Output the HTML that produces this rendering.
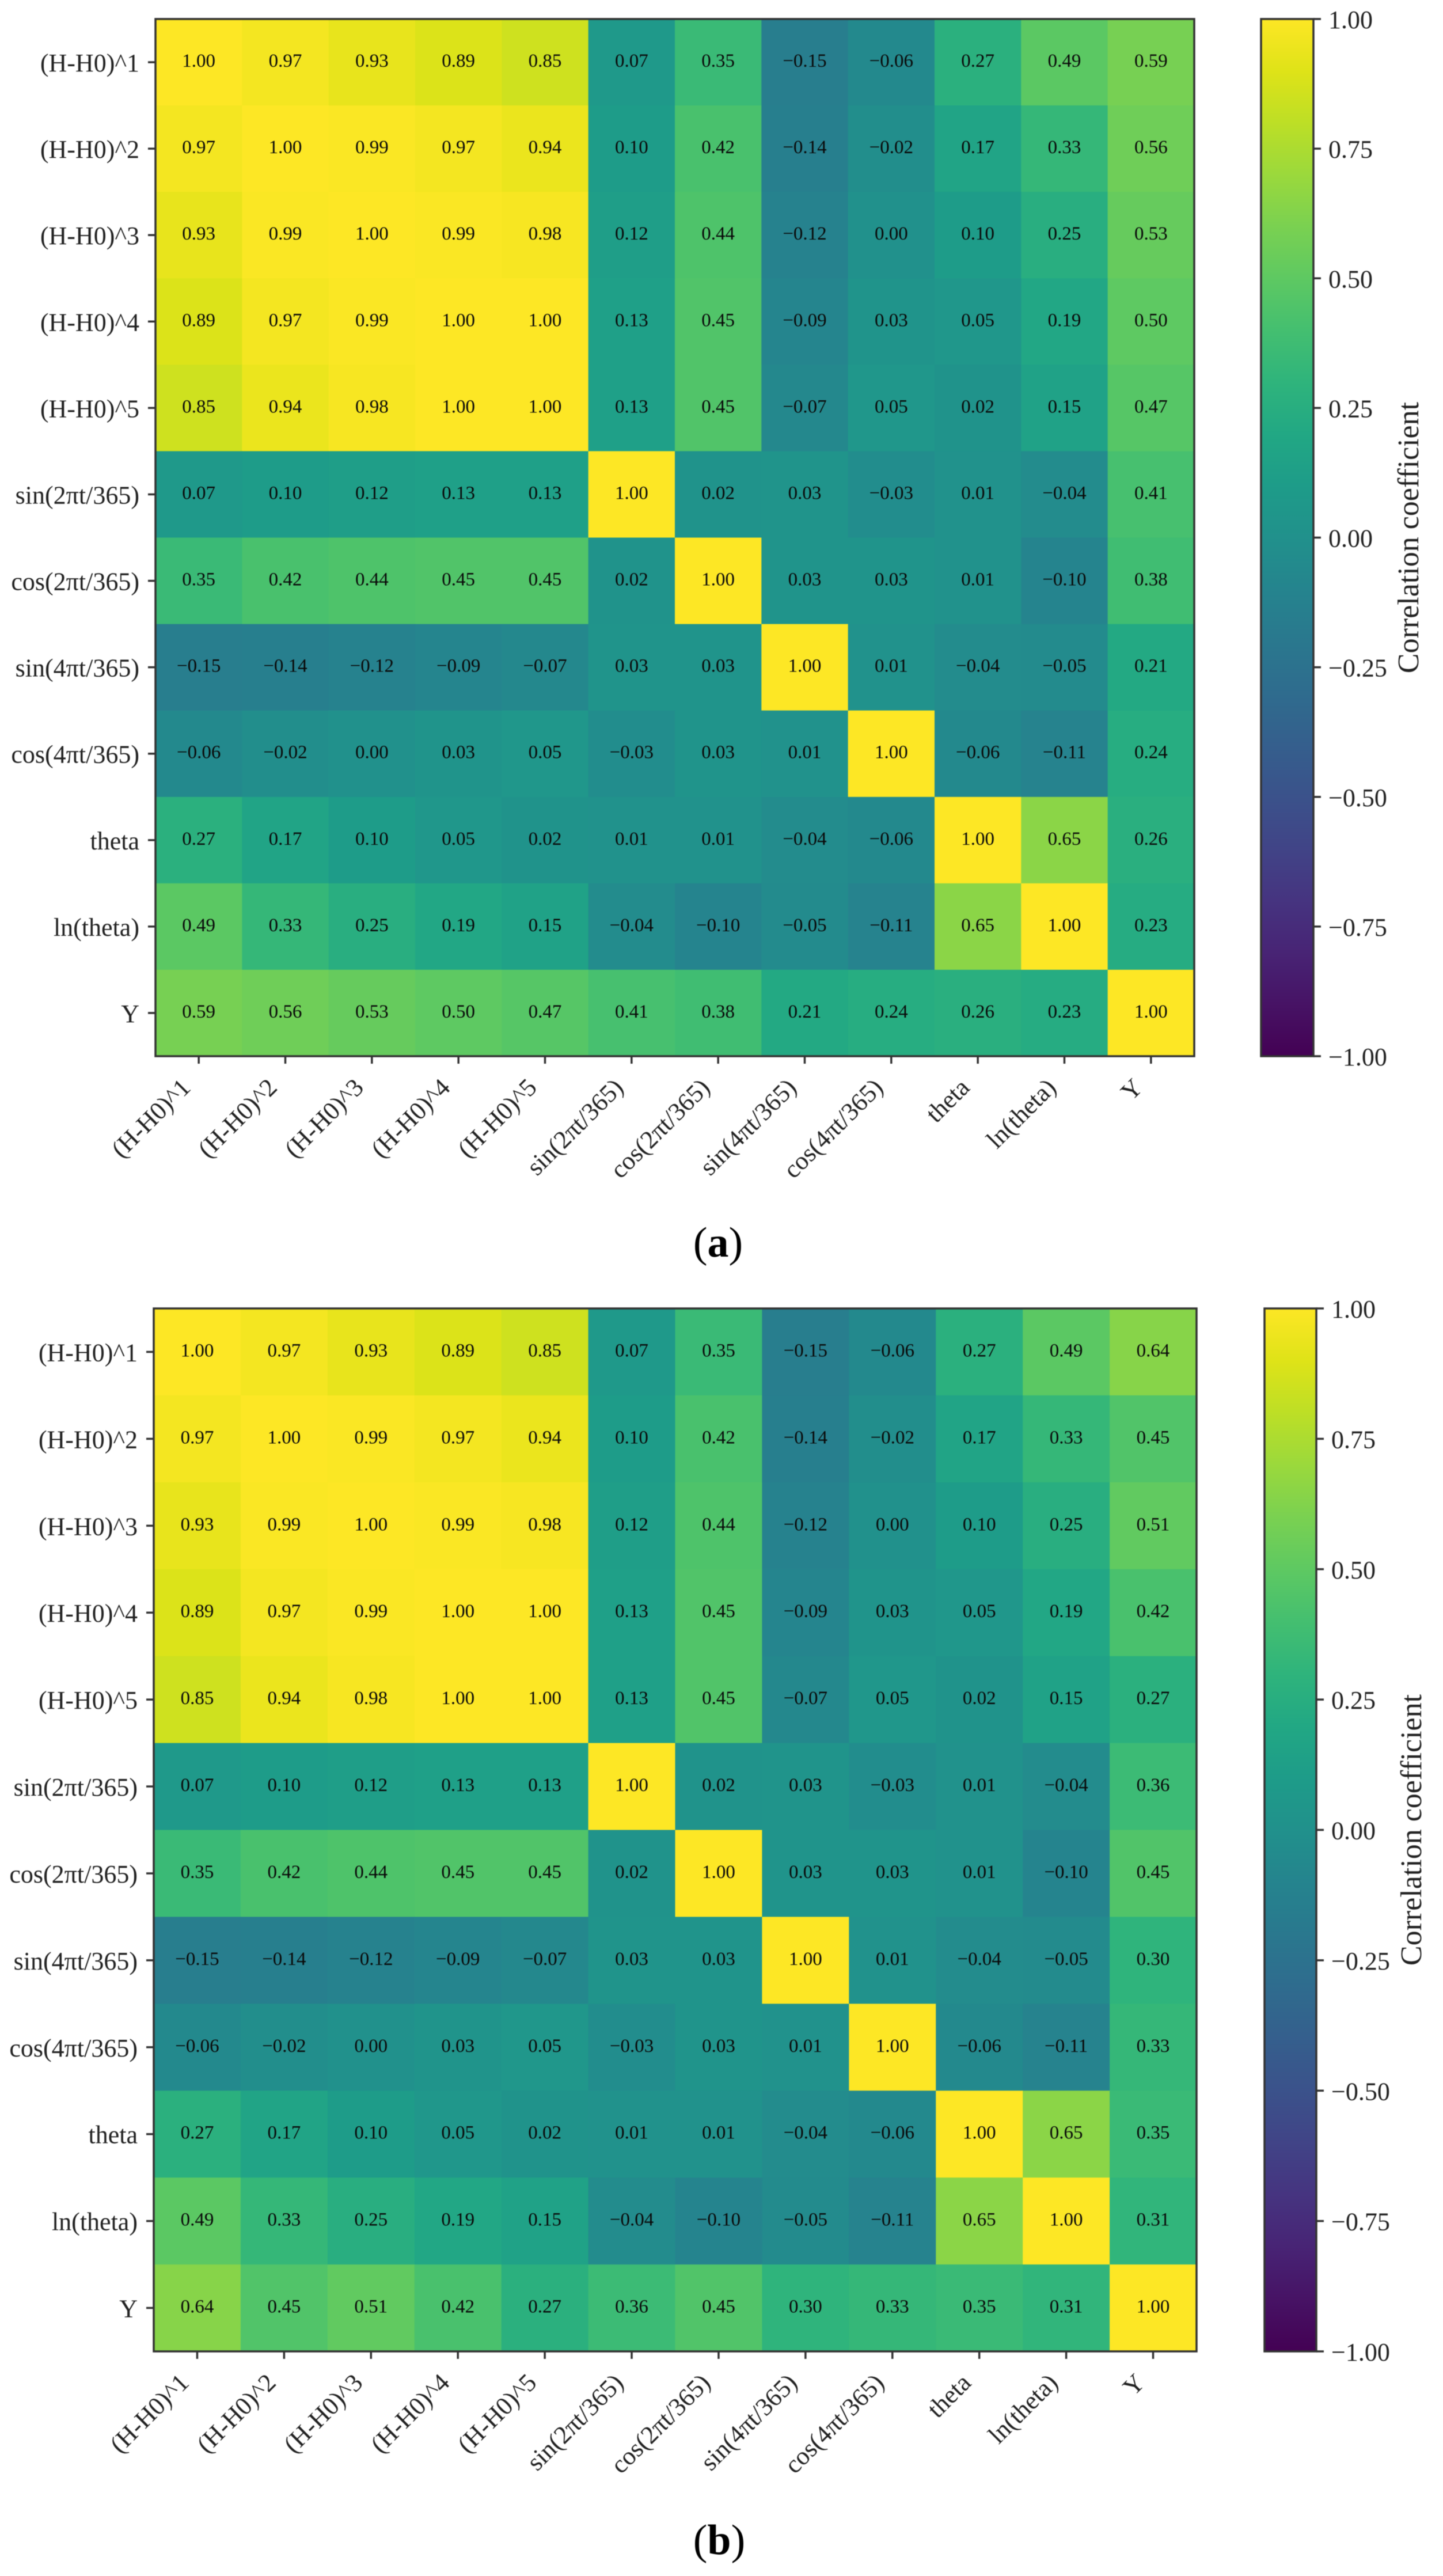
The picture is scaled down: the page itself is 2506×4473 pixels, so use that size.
<!DOCTYPE html>
<html lang="en">
<head>
<meta charset="utf-8">
<title>Correlation heatmaps</title>
<style>
html,body{margin:0;padding:0;background:#fff;}
svg{display:block;font-family:"Liberation Serif","Noto Serif CJK SC",serif;}
#figure{filter:blur(0.6px);}
</style>
</head>
<body>
<svg id="figure" xmlns="http://www.w3.org/2000/svg" width="2506" height="4473" viewBox="0 0 2506 4473">
<rect x="0" y="0" width="2506" height="4473" fill="#ffffff"/>
</svg>
<script>
const categories = ["(H-H0)^1","(H-H0)^2","(H-H0)^3","(H-H0)^4","(H-H0)^5","sin(2πt/365)","cos(2πt/365)","sin(4πt/365)","cos(4πt/365)","theta","ln(theta)","Y"];
const featureCorrelations = [
  [1.00,0.97,0.93,0.89,0.85,0.07,0.35,-0.15,-0.06,0.27,0.49],
  [0.97,1.00,0.99,0.97,0.94,0.10,0.42,-0.14,-0.02,0.17,0.33],
  [0.93,0.99,1.00,0.99,0.98,0.12,0.44,-0.12,0.00,0.10,0.25],
  [0.89,0.97,0.99,1.00,1.00,0.13,0.45,-0.09,0.03,0.05,0.19],
  [0.85,0.94,0.98,1.00,1.00,0.13,0.45,-0.07,0.05,0.02,0.15],
  [0.07,0.10,0.12,0.13,0.13,1.00,0.02,0.03,-0.03,0.01,-0.04],
  [0.35,0.42,0.44,0.45,0.45,0.02,1.00,0.03,0.03,0.01,-0.10],
  [-0.15,-0.14,-0.12,-0.09,-0.07,0.03,0.03,1.00,0.01,-0.04,-0.05],
  [-0.06,-0.02,0.00,0.03,0.05,-0.03,0.03,0.01,1.00,-0.06,-0.11],
  [0.27,0.17,0.10,0.05,0.02,0.01,0.01,-0.04,-0.06,1.00,0.65],
  [0.49,0.33,0.25,0.19,0.15,-0.04,-0.10,-0.05,-0.11,0.65,1.00]
];
const targetCorrelationsA = [0.59,0.56,0.53,0.50,0.47,0.41,0.38,0.21,0.24,0.26,0.23,1.00];
const targetCorrelationsB = [0.64,0.45,0.51,0.42,0.27,0.36,0.45,0.30,0.33,0.35,0.31,1.00];
const colorbarTicks = [1.00,0.75,0.50,0.25,0.00,-0.25,-0.50,-0.75,-1.00];
const colorbarTitle = "Correlation coefficient";
const viridisStops = ["#440154","#471365","#482475","#463480","#414487","#3b528b","#355f8d","#2f6c8e","#2a788e","#25848e","#21918c","#1e9c89","#22a884","#2fb47c","#44bf70","#5ec962","#7ad151","#9bd93c","#bddf26","#dfe318","#fde725"];

const SVG_NS = "http://www.w3.org/2000/svg";
const figure = document.getElementById("figure");
const FRAME = "#333333";
const INK = "#222222";

function shape(parent, tag, attrs, text) {
  const node = document.createElementNS(SVG_NS, tag);
  for (const key in attrs) node.setAttribute(key, attrs[key]);
  if (text !== undefined) node.textContent = text;
  parent.appendChild(node);
  return node;
}
function hexToRgb(hex) {
  return [1, 3, 5].map(function (i) { return parseInt(hex.substr(i, 2), 16); });
}
function viridis(t) {
  const pos = Math.max(0, Math.min(1, t)) * (viridisStops.length - 1);
  const lo = Math.floor(pos);
  const hi = Math.min(lo + 1, viridisStops.length - 1);
  const a = hexToRgb(viridisStops[lo]);
  const b = hexToRgb(viridisStops[hi]);
  const f = pos - lo;
  return "rgb(" + a.map(function (v, i) { return Math.round(v + (b[i] - v) * f); }).join(",") + ")";
}
function colorOf(value) {
  return viridis((value + 1) / 2);
}
function formatValue(value) {
  const text = Math.abs(value).toFixed(2);
  return value < 0 ? "\u2212" + text : text;
}
function buildMatrix(targets) {
  const rows = featureCorrelations.map(function (row, i) { return row.concat([targets[i]]); });
  rows.push(targets.slice());
  return rows;
}

function drawPanel(id, targets, box, barLeft, barRight, captionLetter, captionX, captionY) {
  const n = categories.length;
  const xScale = function (i) { return box.left + (box.right - box.left) * i / n; };
  const yScale = function (i) { return box.top + (box.bottom - box.top) * i / n; };
  const barScale = function (v) { return box.top + (box.bottom - box.top) * (1 - v) / 2; };
  const matrix = buildMatrix(targets);

  const panel = shape(figure, "g", {});
  
  

  matrix.forEach(function (row, r) {
    row.forEach(function (value, c) {
      const cell = shape(panel, "rect", {
        x: xScale(c), y: yScale(r),
        width: xScale(c + 1) - xScale(c) + 0.5,
        height: yScale(r + 1) - yScale(r) + 0.5,
        fill: colorOf(value)
      });
      
      
    });
  });
  matrix.forEach(function (row, r) {
    row.forEach(function (value, c) {
      const label = shape(panel, "text", {
        x: (xScale(c) + xScale(c + 1)) / 2,
        y: (yScale(r) + yScale(r + 1)) / 2 + 8,
        "text-anchor": "middle", "font-size": 33, fill: "#0a0a0a"
      }, formatValue(value));
      
      
    });
  });

  const frame = shape(panel, "rect", {
    x: box.left, y: box.top, width: box.right - box.left, height: box.bottom - box.top,
    fill: "none", stroke: FRAME, "stroke-width": 3.5
  });
  
  

  categories.forEach(function (name, i) {
    const cy = (yScale(i) + yScale(i + 1)) / 2;
    const cx = (xScale(i) + xScale(i + 1)) / 2;

    const yTick = shape(panel, "line", { x1: box.left - 13, x2: box.left, y1: cy, y2: cy, stroke: FRAME, "stroke-width": 3.5 });
    
    

    const yLabel = shape(panel, "text", {
      x: box.left - 28, y: cy + 16, "text-anchor": "end", "font-size": 44, fill: INK
    }, name);
    
    

    const xTick = shape(panel, "line", { x1: cx, x2: cx, y1: box.bottom, y2: box.bottom + 13, stroke: FRAME, "stroke-width": 3.5 });
    
    

    const ax = cx - 12;
    const ay = box.bottom + 57;
    const xLabel = shape(panel, "text", {
      x: ax, y: ay, "text-anchor": "end", "font-size": 44, fill: INK,
      transform: "rotate(-45 " + ax + " " + ay + ")"
    }, name);
    
    
  });

  const gradient = shape(panel, "linearGradient", { id: "bar-gradient-" + id, x1: 0, y1: 1, x2: 0, y2: 0 });
  viridisStops.forEach(function (color, i) {
    shape(gradient, "stop", { offset: i / (viridisStops.length - 1), "stop-color": color });
  });
  const bar = shape(panel, "rect", {
    x: barLeft, y: box.top, width: barRight - barLeft, height: box.bottom - box.top,
    fill: "url(#bar-gradient-" + id + ")", stroke: FRAME, "stroke-width": 3.5
  });
  
  

  colorbarTicks.forEach(function (value) {
    const ty = barScale(value);
    const tick = shape(panel, "line", { x1: barRight, x2: barRight + 13, y1: ty, y2: ty, stroke: FRAME, "stroke-width": 3.5 });
    
    
    const tickLabel = shape(panel, "text", {
      x: barRight + 26, y: ty + 16, "font-size": 44, fill: INK
    }, formatValue(value));
    
    
  });

  const titleX = barRight + 182;
  const titleY = (box.top + box.bottom) / 2;
  const title = shape(panel, "text", {
    x: titleX, y: titleY, "text-anchor": "middle", "font-size": 52, fill: INK,
    transform: "rotate(-90 " + titleX + " " + titleY + ")"
  }, colorbarTitle);
  
  

  const caption = shape(panel, "text", {
    x: captionX, y: captionY, "text-anchor": "middle", "font-size": 74, fill: "#000000"
  });
  
  
  shape(caption, "tspan", {}, "(");
  shape(caption, "tspan", { "font-weight": "bold" }, captionLetter);
  shape(caption, "tspan", {}, ")");
}

drawPanel("a", targetCorrelationsA, { left: 270, right: 2074, top: 33, bottom: 1834 }, 2190, 2281, "a", 1247, 2182);
drawPanel("b", targetCorrelationsB, { left: 267, right: 2078, top: 2272, bottom: 4083 }, 2196, 2286, "b", 1249, 4435);
</script>
</body>
</html>
